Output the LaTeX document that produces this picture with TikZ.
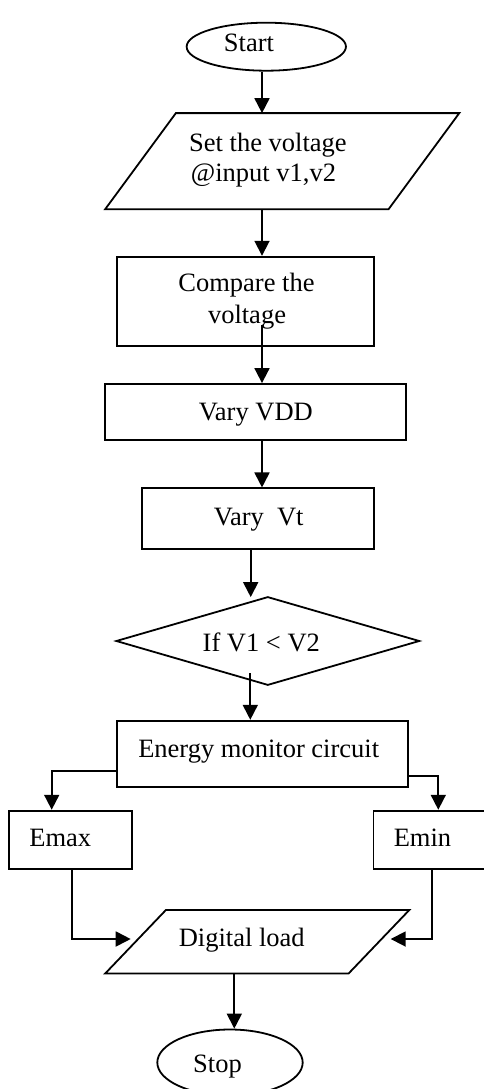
\documentclass[tikz,border=0pt]{standalone}
\usepackage{fontspec}
\setmainfont{Liberation Serif}
\usetikzlibrary{shapes.geometric,arrows.meta}
\begin{document}
\begin{tikzpicture}[x=1pt,y=-1pt, line width=1.8pt,
  box/.style={draw, rectangle, inner sep=0pt},
  ghost/.style={rectangle, inner sep=0pt, draw=none},
  term/.style={draw, ellipse, inner sep=0pt},
  lbl/.style={inner sep=0pt, anchor=base, font=\fontsize{26.5}{32}\selectfont},
  arr/.style={-{Triangle[length=15pt,width=15pt]}, line width=1.8pt}]
\useasboundingbox (0,0) rectangle (484,1089);

% columns for connectors
\coordinate (xa) at (262,0);
\coordinate (xb) at (250.7,0);
\coordinate (xc) at (234.3,0);
\coordinate (x7) at (51.7,0);
\coordinate (x8) at (438.3,0);
\coordinate (x9) at (71.7,0);
\coordinate (x10) at (431.7,0);

% Start
\node[term, minimum width=159.3pt, minimum height=48pt] (start) at (266.3,46.7) {};
\node[lbl] (tstart) at (249,52) {Start};

% Input parallelogram
\node[ghost, minimum width=352.3pt, minimum height=94.3pt] (p1) at (282.2,161.2) {};
\draw (p1.south west) -- ([xshift=70.7pt]p1.north west) -- (p1.north east) -- ([xshift=-70.7pt]p1.south east) -- cycle;
\node[lbl, anchor=base west] (tp1a) at (188.3,151.7) {Set the voltage};
\node[lbl, anchor=base west] (tp1b) at (190,181.7) {@input v1,v2};

% Compare
\node[box, minimum width=257pt, minimum height=89pt] (cmp) at (245.5,301.2) {};
\node[lbl] (tcmpa) at (246.5,291.7) {Compare the};
\node[lbl] (tcmpb) at (247,323.3) {voltage};

% Vary VDD
\node[box, minimum width=301pt, minimum height=56pt] (vdd) at (255.5,412) {};
\node[lbl] (tvdd) at (255.8,420) {Vary VDD};

% Vary Vt
\node[box, minimum width=232.6pt, minimum height=60.7pt] (vt) at (258,518.7) {};
\node[lbl] (tvt) at (258.7,525) {Vary\ \ Vt};

% Decision
\node[ghost, minimum width=301pt, minimum height=86pt] (dia) at (267.8,641) {};
\draw (dia.north) -- (dia.east) -- (dia.south) -- (dia.west) -- cycle;
\node[lbl] (tdia) at (261.3,651.7) {If V1 < V2};

% Energy monitor
\node[box, minimum width=291pt, minimum height=66.6pt] (en) at (262.8,754) {};
\node[lbl] (ten) at (258.7,757.3) {Energy monitor circuit};

% Emax / Emin
\node[box, minimum width=123pt, minimum height=58.3pt] (emax) at (70.8,839.8) {};
\node[lbl] (temax) at (60.3,846.7) {Emax};
\node[box, minimum width=116.5pt, minimum height=58.3pt] (emin) at (431.75,839.8) {};
\node[lbl] (temin) at (422.5,846.7) {Emin};

% Digital load
\node[ghost, minimum width=302.3pt, minimum height=61.7pt] (load) at (257.2,941.8) {};
\draw (load.south west) -- ([xshift=60.7pt]load.north west) -- (load.north east) -- ([xshift=-60.7pt]load.south east) -- cycle;
\node[lbl] (tload) at (241.7,946.7) {Digital load};

% Stop
\node[term, minimum width=145.4pt, minimum height=66pt] (stop) at (230,1062.5) {};
\node[lbl] (tstop) at (217.5,1072.7) {Stop};

% connector helper points
\coordinate (c3) at (262,325);
\coordinate (c6) at (250.3,673);
\coordinate (t9) at (130.7,939);
\coordinate (t10) at (390.7,939);

% connectors
\draw[arr] (start.south -| xa) -- (p1.north -| xa);
\draw[arr] (p1.south -| xa) -- (cmp.north -| xa);
\draw[arr] (c3) -- (vdd.north -| xa);
\draw[arr] (vdd.south -| xa) -- (vt.north -| xa);
\draw[arr] (vt.south -| xb) -- (dia.north -| xb);
\draw[arr] (c6) -- (en.north -| c6);
\draw[arr] ([yshift=-17pt]en.west) -| (emax.north -| x7);
\draw[arr] ([yshift=-22pt]en.east) -| (emin.north -| x8);
\draw[arr] (emax.south -| x9) |- (t9);
\draw[arr] (emin.south -| x10) |- (t10);
\draw[arr] (load.south -| xc) -- (stop.north -| xc);
\end{tikzpicture}
\end{document}
